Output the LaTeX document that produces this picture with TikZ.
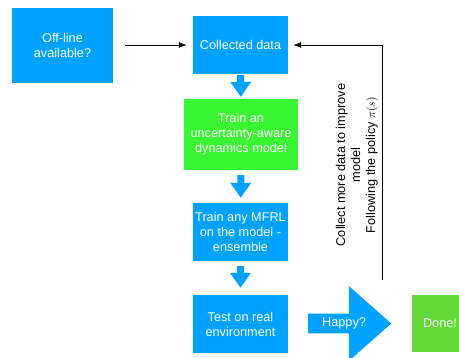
\documentclass[tikz,border=0pt]{standalone}
\usepackage{fontspec}
\setmainfont{Liberation Sans}
\usepackage{xcolor}
\usepackage{amsmath}
\usepackage{tikz}
\usetikzlibrary{shapes, arrows.meta, calc}

\definecolor{KeyBlue}{RGB}{0,162,255}
\definecolor{KeyGreen}{RGB}{58,245,50}
\definecolor{DoneGreen}{RGB}{97,216,54}

\begin{document}
\begin{tikzpicture}[
        x=1pt, y=-1pt,
        font=\fontsize{12.7}{15}\selectfont,
        step box/.style={
            rectangle,
            fill=KeyBlue,
            text=white,
            align=center,
            inner sep=0pt,
            minimum width=95pt,
            minimum height=58pt
        },
        flow/.style={
            KeyBlue,
            line width=7pt,
            -{Triangle[width=20pt,length=15pt]}
        },
        thin arrow/.style={
            line width=0.8pt,
            -{Latex[length=8pt,width=6pt]}
        }
    ]
    \path[use as bounding box, clip] (0,0) rectangle (459,358);

    \node[step box, minimum width=101pt, minimum height=75pt] (offline) at (62.5,45.5) {Off-line\\available?};
    \node[step box] (collected) at (240.5,45) {Collected data};
    \node[step box, fill=KeyGreen, minimum width=114pt, minimum height=71pt] (model) at (241,134.5) {Train an\\uncertainty-aware\\dynamics model};
    \node[step box] (mfrl) at (240.5,232) {Train any MFRL\\on the model -\\ensemble};
    \node[step box] (test) at (240.5,324) {Test on real\\environment};

    \node[single arrow, fill=KeyBlue, text=white, inner xsep=2pt, inner ysep=4pt,
          minimum height=83pt, single arrow head extend=27.5pt,
          single arrow tip angle=83, anchor=tail] (happy) at (308,323.5) {Happy?};
    \node[step box, fill=DoneGreen, minimum width=56pt, minimum height=57pt] (done) at (440,323.5) {Done!};

    \node[rotate=90, align=center] (note) at (357,165) {Collect more data to improve\\model\\Following the policy $\pi(s)$};
    \coordinate (loopend) at (382,280);

    % Flow
    \draw[flow, shorten <=1pt, shorten >=2pt] (collected) -- (model);
    \draw[flow, shorten <=5pt, shorten >=5pt] (model) -- (mfrl);
    \draw[flow, shorten <=5pt, shorten >=7pt] (mfrl) -- (test);

    % Loop back
    \draw[thin arrow, shorten <=12pt, shorten >=6pt] (offline.east |- collected) -- (collected);
    \draw[thin arrow, shorten >=5pt] (loopend) |- (collected.east);

\end{tikzpicture}
\end{document}
